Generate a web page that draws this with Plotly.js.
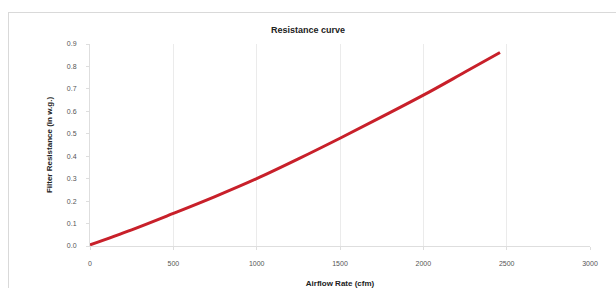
<!DOCTYPE html>
<html>
<head>
<meta charset="utf-8">
<script src="https://cdn.plot.ly/plotly-3.0.1.min.js"></script>
<style>
html,body{margin:0;padding:0;background:#fff;}
#frame{position:absolute;left:8px;top:12px;width:620px;height:290px;border:1px solid #d9d9d9;box-sizing:border-box;}
#chart{position:absolute;left:0;top:0;width:616px;height:288px;}
</style>
</head>
<body>
<div id="frame"></div>
<div id="chart"></div>
<script>
const airflow = [0, 250, 500, 750, 1000, 1250, 1500, 1750, 2000, 2250, 2460];
const resistance = [0.005, 0.072, 0.145, 0.22, 0.30, 0.388, 0.48, 0.575, 0.672, 0.775, 0.862];
const xTicks = [0, 500, 1000, 1500, 2000, 2500, 3000];
const yTicks = [0, 0.1, 0.2, 0.3, 0.4, 0.5, 0.6, 0.7, 0.8, 0.9];

const font = "Liberation Sans, Arial, sans-serif";
Plotly.newPlot('chart', [{
  x: airflow, y: resistance, type: 'scatter', mode: 'lines',
  line: {color: '#c8202a', width: 3, shape: 'spline'},
  hoverinfo: 'skip'
}], {
  width: 616, height: 288,
  paper_bgcolor: 'rgba(0,0,0,0)', plot_bgcolor: 'rgba(0,0,0,0)',
  margin: {l: 90, r: 26, t: 44, b: 42},
  showlegend: false,
  title: {text: '<b>Resistance curve</b>', font: {family: font, size: 9, color: '#222'}, x: 0.5, xanchor: 'center', y: 0.895, yref: 'container', yanchor: 'middle', automargin: false},
  xaxis: {
    range: [0, 3000], tickvals: xTicks, ticktext: xTicks.map(String),
    showgrid: true, gridcolor: '#ebebeb', gridwidth: 1,
    showline: true, linecolor: '#dedede', ticks: 'outside', ticklen: 3, tickcolor: '#dedede',
    ticklabelstandoff: 8,
    zeroline: false, tickfont: {family: font, size: 7, color: '#555'},
    title: {text: '<b>Airflow Rate (cfm)</b>', font: {family: font, size: 8, color: '#222'}, standoff: 14}
  },
  yaxis: {
    range: [0, 0.9], tickvals: yTicks, tickformat: '.1f',
    showgrid: false, showline: true, linecolor: '#dedede', ticks: 'outside', ticklen: 3, tickcolor: '#dedede',
    ticklabelstandoff: 8,
    zeroline: false, tickfont: {family: font, size: 7, color: '#555'},
    title: {text: '<b>Filter Resistance (in w.g.)</b>', font: {family: font, size: 8, color: '#222'}, standoff: 13}
  }
}, {staticPlot: true});
</script>
</body>
</html>
